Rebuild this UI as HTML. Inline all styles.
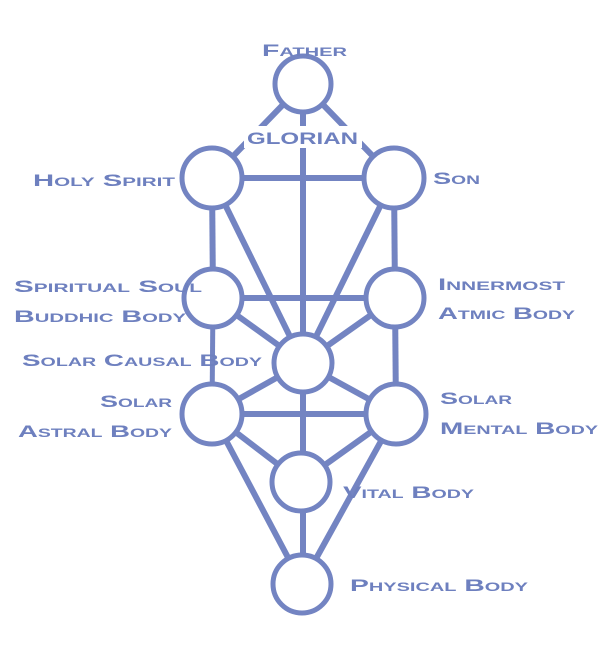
<!DOCTYPE html>
<html><head><meta charset="utf-8"><style>
html,body{margin:0;padding:0;background:#fff;}
svg{display:block}
text{font-family:"Liberation Sans",sans-serif;font-weight:bold;font-variant:small-caps;fill:#6e80bf;font-size:17px;}
</style></head><body>
<svg width="614" height="646" viewBox="0 0 614 646" xmlns="http://www.w3.org/2000/svg">
<g stroke="#7384c2" stroke-width="6" fill="none" stroke-linecap="butt">
<line x1="303" y1="84" x2="303" y2="584"/>
<line x1="303" y1="84" x2="212" y2="178"/>
<line x1="303" y1="84" x2="394" y2="178"/>
<line x1="212" y1="178" x2="394" y2="178"/>
<line x1="212" y1="178" x2="213" y2="298"/>
<line x1="394" y1="178" x2="395" y2="298"/>
<line x1="212" y1="178" x2="303" y2="363"/>
<line x1="394" y1="178" x2="303" y2="363"/>
<line x1="213" y1="298" x2="395" y2="298"/>
<line x1="213" y1="298" x2="303" y2="363"/>
<line x1="395" y1="298" x2="303" y2="363"/>
<line x1="213" y1="298" x2="212" y2="414" stroke-width="5"/>
<line x1="395" y1="298" x2="396" y2="414"/>
<line x1="212" y1="414" x2="303" y2="363"/>
<line x1="396" y1="414" x2="303" y2="363"/>
<line x1="212" y1="414" x2="396" y2="414"/>
<line x1="212" y1="414" x2="301" y2="482"/>
<line x1="396" y1="414" x2="301" y2="482"/>
<line x1="212" y1="414" x2="302" y2="584"/>
<line x1="396" y1="414" x2="302" y2="584"/>
</g>
<g stroke="#7384c2" stroke-width="5" fill="#fff">
<circle cx="303" cy="84" r="28"/>
<circle cx="212" cy="178" r="30"/>
<circle cx="394" cy="178" r="30"/>
<circle cx="213" cy="298" r="29"/>
<circle cx="395" cy="298" r="29"/>
<circle cx="303" cy="363" r="29"/>
<circle cx="212" cy="414" r="30"/>
<circle cx="396" cy="414" r="30"/>
<circle cx="301" cy="482" r="29"/>
<circle cx="302" cy="584" r="29"/>
</g>
<rect x="244" y="126" width="118" height="22" fill="#fff"/>
<text x="262" y="56" textLength="85" lengthAdjust="spacingAndGlyphs">Father</text>
<text x="247" y="144" textLength="111" lengthAdjust="spacingAndGlyphs">GLORIAN</text>
<text x="33" y="186" textLength="142" lengthAdjust="spacingAndGlyphs">Holy Spirit</text>
<text x="433" y="184" textLength="47" lengthAdjust="spacingAndGlyphs">Son</text>
<text x="14" y="292" textLength="188" lengthAdjust="spacingAndGlyphs">Spiritual Soul</text>
<text x="14" y="322" textLength="172" lengthAdjust="spacingAndGlyphs">Buddhic Body</text>
<text x="22" y="366" textLength="240" lengthAdjust="spacingAndGlyphs">Solar Causal Body</text>
<text x="100" y="407" textLength="72" lengthAdjust="spacingAndGlyphs">Solar</text>
<text x="18" y="437" textLength="154" lengthAdjust="spacingAndGlyphs">Astral Body</text>
<text x="438" y="290" textLength="127" lengthAdjust="spacingAndGlyphs">Innermost</text>
<text x="438" y="319" textLength="137" lengthAdjust="spacingAndGlyphs">Atmic Body</text>
<text x="440" y="404" textLength="72" lengthAdjust="spacingAndGlyphs">Solar</text>
<text x="440" y="434" textLength="158" lengthAdjust="spacingAndGlyphs">Mental Body</text>
<text x="343" y="498" textLength="131" lengthAdjust="spacingAndGlyphs">Vital Body</text>
<text x="350" y="591" textLength="178" lengthAdjust="spacingAndGlyphs">Physical Body</text>
</svg>
</body></html>
